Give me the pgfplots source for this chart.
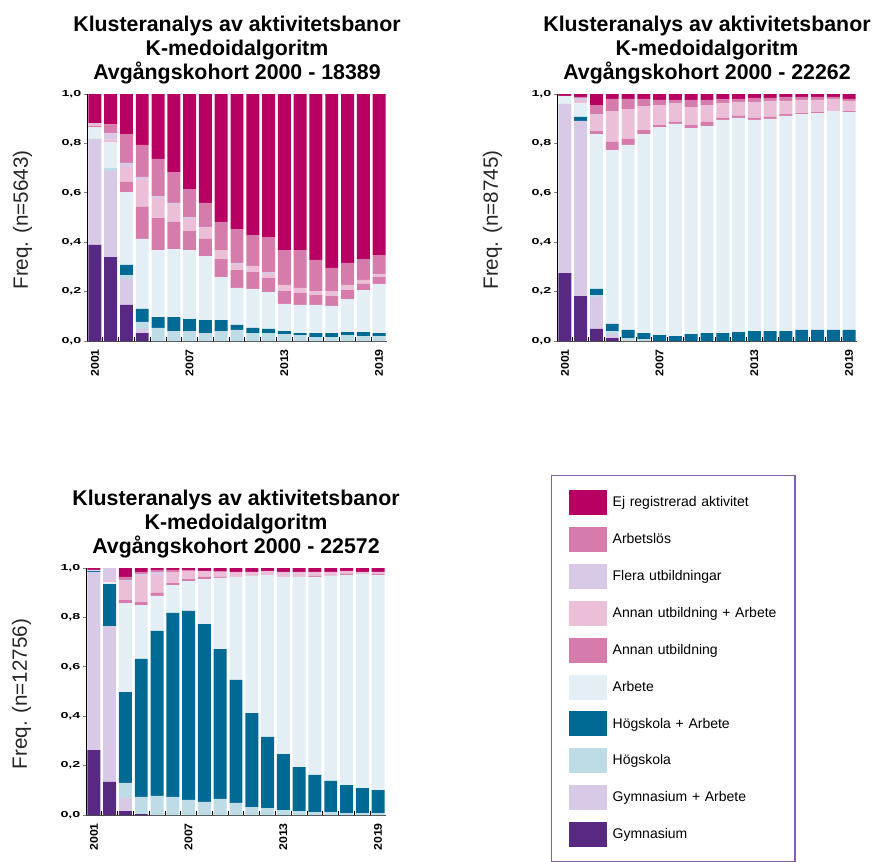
\documentclass[border=0pt]{standalone}
\usepackage{pgfplots}
\pgfplotsset{compat=1.18}
\usepackage{pgfplotstable}
\usepackage{fontspec}
\setmainfont{Liberation Sans}
\usepackage{graphicx}

\definecolor{cEJ}{RGB}{184,0,98}
\definecolor{cAL}{RGB}{214,124,172}
\definecolor{cFU}{RGB}{216,202,230}
\definecolor{cAUA}{RGB}{235,191,216}
\definecolor{cAU}{RGB}{214,124,172}
\definecolor{cA}{RGB}{227,239,244}
\definecolor{cHA}{RGB}{0,105,148}
\definecolor{cH}{RGB}{190,220,230}
\definecolor{cGA}{RGB}{216,202,230}
\definecolor{cG}{RGB}{88,41,130}
\definecolor{cLeg}{RGB}{130,95,175}

% columns: G=Gymnasium, GA=Gymnasium+Arbete, H=Högskola, HA=Högskola+Arbete, A=Arbete,
% AU=Annan utbildning, AUA=Annan utb.+Arbete, FU=Flera utb., AL=Arbetslös, EJ=Ej registrerad
\pgfplotstableread{
x  G    GA   H    HA   A    AU   AUA  FU   AL   EJ
1  .389 .429 0    0    .047 .005 .008 .003 0    .119
2  .340 .348 .012 0    .104 0    .012 .025 .036 .123
3  .146 .105 .016 .041 .295 .041 .060 .017 .117 .162
4  .032 .017 .028 .053 .283 .130 .109 .012 .130 .206
5  0    0    .053 .044 .271 .130 .081 .008 .150 .263
6  0    0    .040 .057 .275 .110 .069 .008 .125 .316
7  0    0    .040 .049 .279 .077 .049 .008 .113 .385
8  0    0    .032 .053 .259 .069 .049 0    .097 .441
9  0    0    .040 .045 .174 .073 .036 0    .114 .518
10 0    0    .045 .020 .150 .072 .021 .008 .137 .547
11 0    0    .032 .021 .158 .068 .025 0    .125 .571
12 0    0    .032 .017 .149 .057 .016 .008 .142 .579
13 0    0    .028 .012 .110 .052 .025 0    .141 .632
14 0    0    .024 .008 .114 .048 .021 0    .153 .632
15 0    0    .016 .016 .114 .040 .016 0    .126 .672
16 0    0    .016 .016 .110 .040 .020 0    .094 .704
17 0    0    .024 .012 .134 .036 .021 0    .089 .684
18 0    0    .020 .016 .170 .025 .016 0    .085 .668
19 0    0    .020 .012 .199 .028 .012 0    .077 .652
}\tabA

\pgfplotstableread{
x  G    GA   H    HA   A    AU   AUA  FU   AL   EJ
1  .275 .685 0    0    .032 0    0    0    0    .008
2  .182 .709 0    .016 .057 0    .012 .008 .004 .012
3  .049 .129 .008 .025 .627 .012 .065 .004 .036 .045
4  .012 .016 .012 .029 .704 .033 .125 0    .049 .020
5  0    0    .012 .033 .749 .024 .121 0    .041 .020
6  0    0    .008 .024 .806 .016 .097 0    .029 .020
7  0    0    0    .024 .842 .008 .081 0    .021 .024
8  0    0    0    .020 .859 .008 .077 0    .012 .024
9  0    0    0    .028 .834 .012 .073 0    .029 .024
10 0    0    0    .032 .838 .017 .068 0    .021 .024
11 0    0    0    .032 .863 .008 .061 0    .016 .020
12 0    0    0    .036 .867 .008 .057 0    .012 .020
13 0    0    0    .040 .855 .008 .065 0    .016 .016
14 0    0    0    .040 .859 .008 .065 0    .012 .016
15 0    0    0    .040 .871 .008 .053 0    .016 .012
16 0    0    0    .045 .874 .004 .053 0    .012 .012
17 0    0    0    .045 .878 .004 .049 0    .012 .012
18 0    0    0    .045 .886 0    .049 0    .008 .012
19 0    0    0    .045 .882 .004 .041 0    .008 .020
}\tabB

\pgfplotstableread{
x  G    GA   H    HA   A    AU   AUA  FU   AL   EJ
1  .263 .721 0    .004 .004 0    0    0    0    .008
2  .134 .631 0    .170 .008 0    .008 .049 0    0
3  .016 .053 .061 .368 .360 .012 .077 .004 .013 .036
4  .004 0    .069 .559 .218 .012 .106 .008 .008 .016
5  0    0    .077 .668 .142 .012 .073 .012 .008 .008
6  0    0    .073 .745 .113 .008 .045 0    .008 .008
7  0    0    .061 .765 .121 .008 .033 0    .004 .008
8  0    0    .053 .720 .182 .009 .024 0    0    .012
9  0    0    .065 .607 .288 .004 .020 0    .004 .012
10 0    0    .049 .498 .417 0    .020 0    0    .016
11 0    0    .032 .381 .555 0    .016 0    0    .016
12 0    0    .028 .288 .656 0    .016 0    0    .012
13 0    0    .020 .227 .717 0    .020 0    0    .016
14 0    0    .016 .178 .770 0    .020 0    0    .016
15 0    0    .012 .150 .802 .004 .016 0    0    .016
16 0    0    .012 .126 .830 0    .016 0    0    .016
17 0    0    .008 .113 .851 .004 .012 0    0    .012
18 0    0    .008 .101 .867 0    .008 0    0    .016
19 0    0    .008 .093 .871 .004 .008 0    0    .016
}\tabC

\pgfplotsset{
  panel/.style={
    scale only axis, width=225pt, height=185.25pt,
    anchor=south west, clip=false,
    ybar stacked, bar width=0.82,
    xmin=0.5, xmax=19.5, ymin=0, ymax=1,
    axis x line*=bottom, axis y line*=left,
    axis line style={line width=0.6pt},
    x axis line style={black!70},
    y axis line style={black},
    xtick={1,7,13,19},
    xticklabels={\scalebox{1.1}[1]{2001},\scalebox{1.1}[1]{2007},\scalebox{1.1}[1]{2013},\scalebox{1.1}[1]{2019}},
    major x tick style={draw=none},
    minor xtick={1.5,2.5,...,18.5},
    minor x tick style={black, line width=0.6pt},
    minor tick length=3pt,
    xtick align=inside,
    ytick={0,0.2,0.4,0.6,0.8,1},
    ytick align=outside,
    major y tick style={black!50, line width=0.5pt},
    major tick length=2pt,
    yticklabel={\scalebox{1.65}[1]{\pgfmathprintnumber[fixed,fixed zerofill,precision=1,use comma,assume math mode=true]{\tick}}},
    yticklabel style={font=\bfseries\fontsize{6.5}{7}\selectfont, inner sep=0pt, anchor=east, xshift=-2pt},
    xticklabel style={rotate=90, anchor=east, font=\bfseries\fontsize{8.4}{10}\selectfont, inner sep=0pt},
    xticklabel shift=6pt,
    title style={font=\bfseries\fontsize{16}{18}\selectfont, align=center, at={(0.5,1)}, anchor=south, yshift=1.5pt, inner sep=0pt},
    ylabel style={font=\fontsize{15.5}{17}\selectfont, color=black!85, at={(axis description cs:-0.215,0.49)}, anchor=center},
  },
  sw/.style={legend image code/.code={\fill[##1] (0pt,-9.375pt) rectangle (28.5pt,9.375pt);}},
}

\begin{document}
\begin{tikzpicture}
\useasboundingbox (0,0) rectangle (656.25pt,-645.75pt);

\begin{axis}[panel, at={(65.25pt,-255.75pt)},
  title={Klusteranalys av aktivitetsbanor\\K-medoidalgoritm\\Avgångskohort 2000 - 18389},
  ylabel={Freq. (n=5643)}]
\pgfplotsinvokeforeach{G,GA,H,HA,A,AU,AUA,FU,AL,EJ}{
  \addplot[fill=c#1, draw=none] table[x=x, y=#1]{\tabA};
}
\end{axis}

\begin{axis}[panel, at={(417.75pt,-255.75pt)},
  title={Klusteranalys av aktivitetsbanor\\K-medoidalgoritm\\Avgångskohort 2000 - 22262},
  ylabel={Freq. (n=8745)}]
\pgfplotsinvokeforeach{G,GA,H,HA,A,AU,AUA,FU,AL,EJ}{
  \addplot[fill=c#1, draw=none] table[x=x, y=#1]{\tabB};
}
\end{axis}

\begin{axis}[panel, at={(64.5pt,-611.25pt)},
  title={Klusteranalys av aktivitetsbanor\\K-medoidalgoritm\\Avgångskohort 2000 - 22572},
  ylabel={Freq. (n=12756)},
  reverse legend,
  legend style={at={(1.55,1.377)}, anchor=north west, draw=cLeg, line width=1pt,
    fill=white, inner xsep=12.75pt, inner ysep=11pt, row sep=8.9pt,
    font=\fontsize{10.5}{12}\selectfont,
    nodes={inner sep=0pt, text width=124pt, align=left},
    /tikz/every odd column/.append style={column sep=4.5pt}},
  legend entries={Gymnasium, Gymnasium + Arbete, Högskola, Högskola + Arbete, Arbete,
    Annan utbildning, Annan utbildning + Arbete, Flera utbildningar, Arbetslös,
    Ej registrerad aktivitet}]
\pgfplotsinvokeforeach{G,GA,H,HA,A,AU,AUA,FU,AL,EJ}{
  \addplot[fill=c#1, draw=none, sw] table[x=x, y=#1]{\tabC};
}
\end{axis}
\end{tikzpicture}
\end{document}
